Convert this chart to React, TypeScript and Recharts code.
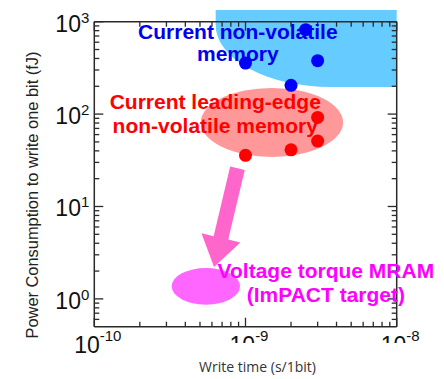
import { ScatterChart, Scatter, XAxis, YAxis, ReferenceArea, ReferenceLine, ReferenceDot } from "recharts";

// write time (s) / energy per bit (fJ)
const blueX = [1e-9, 2e-9, 3e-9, 2.5e-9];
const blueY = [357, 205, 379, 820];
const redX = [1e-9, 2e-9, 3e-9, 3e-9];
const redY = [35.8, 41, 51, 92];

const xMajor = [1e-10, 1e-9, 1e-8];
const xMinor = [2e-10, 3e-10, 4e-10, 5e-10, 6e-10, 7e-10, 8e-10, 9e-10, 2e-9, 3e-9, 4e-9, 5e-9, 6e-9, 7e-9, 8e-9, 9e-9];
const yMajor = [1, 10, 100, 1000];
const yMinor = [0.6, 0.7, 0.8, 0.9, 2, 3, 4, 5, 6, 7, 8, 9, 20, 30, 40, 50, 60, 70, 80, 90, 200, 300, 400, 500, 600, 700, 800, 900];
const xExp: Record<string, string> = { "1e-10": "-10", "1e-9": "-9", "1e-8": "-8" };
const yExp: Record<string, string> = { "1": "0", "10": "1", "100": "2", "1000": "3" };

// annotation regions (data coordinates)
const nvRegion = { x1: 6.35e-10, x2: 1e-8, y1: 197, y2: 1339 };
const leadingEllipse = { x1: 5.06e-10, x2: 4.42e-9, y1: 34.4, y2: 192 };
const targetEllipse = { x1: 3.25e-10, x2: 9.2e-10, y1: 0.865, y2: 2.16 };
const arrowFrom = { x: 8.85e-10, y: 25.9 };
const arrowTo = { x: 6.19e-10, y: 2.21 };

const blueLabel = { x: 8.9e-10, y: 780, lines: ["Current non-volatile", "memory"] };
const redLabel = { x: 6.31e-10, y: 136, lines: ["Current leading-edge", "non-volatile memory"] };
const pinkLabel = { x: 3.4e-9, y: 2.02, lines: ["Voltage torque MRAM", "(ImPACT target)"] };

const blueData = blueX.map((x, i) => ({ x, y: blueY[i] }));
const redData = redX.map((x, i) => ({ x, y: redY[i] }));

const AX = "#2a2a2a";
const MAJ = 9;
const MIN = 5;

function BottomLabel(props: any) {
  const { x, y, payload } = props;
  const e = xExp[String(payload.value)];
  if (!e) return <g />;
  return (
    <text x={x + 3.5} y={y + 26.6} textAnchor="middle" fontFamily="Liberation Sans, Arial" fontSize={23} fill="#111">
      10
      <tspan dy={-12} fontSize={15}>{e}</tspan>
    </text>
  );
}

function LeftLabel(props: any) {
  const { x, y, payload } = props;
  const e = yExp[String(payload.value)];
  if (!e) return <g />;
  return (
    <text x={x - 5} y={y + 10} textAnchor="end" fontFamily="Liberation Sans, Arial" fontSize={23} fill="#111">
      10
      <tspan dy={-9} fontSize={15}>{e}</tspan>
    </text>
  );
}

// inward tick marks on both opposite sides of the frame
const XTick = (len: number) => (p: any) => {
  const top = Math.min(p.y1, p.y2);
  const bot = Math.max(p.y1, p.y2);
  return (
    <g>
      <line x1={p.x1} x2={p.x1} y1={top} y2={top + len} stroke={AX} strokeWidth={1.3} />
      <line x1={p.x1} x2={p.x1} y1={bot} y2={bot - len} stroke={AX} strokeWidth={1.3} />
    </g>
  );
};

const YTick = (len: number) => (p: any) => {
  const l = Math.min(p.x1, p.x2);
  const r = Math.max(p.x1, p.x2);
  return (
    <g>
      <line x1={l} x2={l + len} y1={p.y1} y2={p.y1} stroke={AX} strokeWidth={1.3} />
      <line x1={r} x2={r - len} y1={p.y1} y2={p.y1} stroke={AX} strokeWidth={1.3} />
    </g>
  );
};

const Ellipse = (fill: string) => (p: any) => (
  <ellipse cx={p.x + p.width / 2} cy={p.y + p.height / 2} rx={p.width / 2} ry={p.height / 2} fill={fill} stroke="none" />
);

function RegionShape(p: any) {
  const { x, y, width: w, height: h } = p;
  const rx = 115;
  const ry = 62;
  const d = `M${x},${y} L${x + w},${y} L${x + w},${y + h} L${x + rx},${y + h} A${rx},${ry} 0 0 1 ${x},${y + h - ry} Z`;
  return <path d={d} fill="#66ccff" stroke="none" />;
}

function ArrowShape(p: any) {
  const { x1, y1, x2, y2 } = p;
  const L = Math.hypot(x2 - x1, y2 - y1);
  const ux = (x2 - x1) / L;
  const uy = (y2 - y1) / L;
  const nx = -uy;
  const ny = ux;
  const sw = 7.5;
  const hw = 20;
  const hl = 30;
  const bx = x2 - ux * hl;
  const by = y2 - uy * hl;
  const pts = [
    [x1 + nx * sw, y1 + ny * sw],
    [bx + nx * sw, by + ny * sw],
    [bx + nx * hw, by + ny * hw],
    [x2, y2],
    [bx - nx * hw, by - ny * hw],
    [bx - nx * sw, by - ny * sw],
    [x1 - nx * sw, y1 - ny * sw],
  ];
  return <polygon points={pts.map((q) => q.join(",")).join(" ")} fill="#ff66cc" />;
}

const LabelShape = (lines: string[], fill: string, gap: number) => (p: any) => (
  <text x={p.cx} y={p.cy} textAnchor="middle" fontFamily="Liberation Sans, Arial" fontWeight="bold" fontSize={21} fill={fill}>
    {lines.map((l, i) => (
      <tspan key={i} x={p.cx} dy={i === 0 ? 7.5 : gap}>
        {l}
      </tspan>
    ))}
  </text>
);

const Dot = (fill: string) => (p: any) => <circle cx={p.cx} cy={p.cy} r={6.5} fill={fill} />;

export default function App() {
  return (
    <div style={{ position: "relative", width: 436, height: 371 }}>
      <ScatterChart width={436} height={371} margin={{ top: 13.7, right: 47.3, bottom: 0, left: 0 }}>
        <XAxis
          dataKey="x"
          type="number"
          scale="log"
          domain={[1e-10, 1e-8]}
          allowDataOverflow
          ticks={xMajor}
          interval={0}
          tickSize={0}
          tickMargin={0}
          tickLine={false}
          tick={BottomLabel}
          height={52.3}
          axisLine={{ stroke: AX, strokeWidth: 1.5 }}
        />
        <YAxis
          dataKey="y"
          type="number"
          scale="log"
          domain={[0.5, 1000]}
          allowDataOverflow
          ticks={yMajor}
          interval={0}
          tickSize={0}
          tickMargin={0}
          tickLine={false}
          tick={LeftLabel}
          width={86.3}
          axisLine={{ stroke: AX, strokeWidth: 1.5 }}
        />
        <ReferenceArea {...nvRegion} ifOverflow="visible" shape={RegionShape} />
        <ReferenceArea {...leadingEllipse} ifOverflow="visible" shape={Ellipse("#ff9999")} />
        <ReferenceArea {...targetEllipse} ifOverflow="visible" shape={Ellipse("#ff66ff")} />
        <ReferenceLine y={1000} ifOverflow="visible" stroke={AX} strokeWidth={1.5} />
        <ReferenceLine x={1e-8} ifOverflow="visible" stroke={AX} strokeWidth={1.5} />
        {xMajor.map((v) => (
          <ReferenceLine key={"xM" + v} x={v} ifOverflow="visible" shape={XTick(MAJ)} />
        ))}
        {xMinor.map((v) => (
          <ReferenceLine key={"xm" + v} x={v} ifOverflow="visible" shape={XTick(MIN)} />
        ))}
        {yMajor.map((v) => (
          <ReferenceLine key={"yM" + v} y={v} ifOverflow="visible" shape={YTick(MAJ)} />
        ))}
        {yMinor.map((v) => (
          <ReferenceLine key={"ym" + v} y={v} ifOverflow="visible" shape={YTick(MIN)} />
        ))}
        <ReferenceLine segment={[arrowFrom, arrowTo]} ifOverflow="visible" shape={ArrowShape} />
        <Scatter data={blueData} fill="#0000ff" shape={Dot("#0000ff")} isAnimationActive={false} />
        <Scatter data={redData} fill="#ff0000" shape={Dot("#ff0000")} isAnimationActive={false} />
        <ReferenceDot x={blueLabel.x} y={blueLabel.y} ifOverflow="visible" shape={LabelShape(blueLabel.lines, "#0000ee", 21.5)} />
        <ReferenceDot x={redLabel.x} y={redLabel.y} ifOverflow="visible" shape={LabelShape(redLabel.lines, "#ff0000", 23.3)} />
        <ReferenceDot x={pinkLabel.x} y={pinkLabel.y} ifOverflow="visible" shape={LabelShape(pinkLabel.lines, "#ff00ff", 24.3)} />
      </ScatterChart>
      <svg width={444} height={379} style={{ position: "absolute", left: -8, top: -8, pointerEvents: "none" }}>
        <rect x={160} y={343} width={278} height={36} fill="#ffffff" />
        <text x={257.5} y={371.5} textAnchor="middle" fontFamily="Open Sans" fontSize={14} fill="#333">
          Write time (s/1bit)
        </text>
        <text
          transform="translate(38.3,195) rotate(-90)"
          textAnchor="middle"
          fontFamily="Liberation Sans, Arial"
          fontSize={16.4}
          fill="#222"
        >
          Power Consumption to write one bit (fJ)
        </text>
        <rect x={439.7} y={0} width={5} height={379} fill="#3385f5" />
      </svg>
    </div>
  );
}
